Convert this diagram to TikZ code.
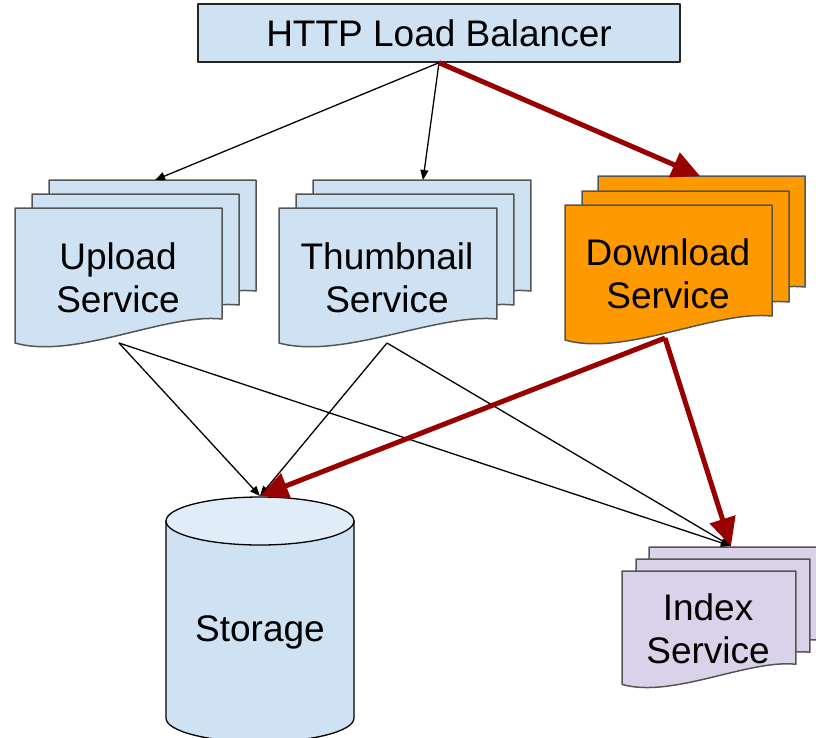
\documentclass[tikz,border=0pt]{standalone}
\usepackage{fontspec}
\setmainfont{Liberation Sans}
\usetikzlibrary{arrows.meta}

\begin{document}
\begin{tikzpicture}[x=1pt,y=-1pt,line join=round,
  page edge/.style={draw=pageline,line width=1.5pt},
  service text/.style={align=center,font=\fontsize{37}{43}\selectfont},
  call/.style={-{Triangle[length=10pt,width=8pt]},line width=1.3pt},
  main call/.style={-{Triangle[length=28pt,width=26pt]},flowred,line width=5pt},
  pics/page/.style={code={\filldraw[page edge,#1] (0,0) -- (207,0) -- (207,111) .. controls (150,105) and (60,152) .. (0,135) -- cycle;}}]
 \definecolor{svcblue}{HTML}{CFE2F3}
 \definecolor{topblue}{HTML}{E0ECF8}
 \definecolor{dlorange}{HTML}{FF9900}
 \definecolor{idxpurple}{HTML}{D9D2E9}
 \definecolor{flowred}{HTML}{990000}
 \definecolor{pageline}{HTML}{555555}

 \useasboundingbox (0,0) rectangle (816,737);

 \node[draw=black!85,fill=svcblue,line width=1.4pt,minimum width=482pt,minimum height=58pt,service text] (lb) at (439,33) {HTTP Load Balancer};

 \foreach \dx/\dy in {34/-28,17/-14,0/0}
    \pic at (15+\dx,208+\dy) {page={fill=svcblue}};
 \node[service text] (upload) at (118,278) {Upload\\Service};
 \coordinate (upload in) at (155,180);
 \coordinate (upload out) at (119,343);

 \foreach \dx/\dy in {34/-28,17/-14,0/0}
    \pic[xscale=1.053] at (279+\dx,208+\dy) {page={fill=svcblue}};
 \node[service text] (thumb) at (387,278) {Thumbnail\\Service};
 \coordinate (thumb in) at (423,180);
 \coordinate (thumb out) at (387,343);

 \foreach \dx/\dy in {33/-29,17/-14,0/0}
    \pic at (565+\dx,205+\dy) {page={fill=dlorange}};
 \node[service text] (download) at (668,274) {Download\\Service};
 \coordinate (download in) at (700,176);
 \coordinate (download out) at (665,338);

 \foreach \dx/\dy in {27/-24,14/-12,0/0}
    \pic[scale=0.84] at (622+\dx,571+\dy) {page={fill=idxpurple}};
 \node[service text] (index) at (708,629) {Index\\Service};
 \coordinate (index in) at (731,546);

 \filldraw[fill=svcblue,line width=1.3pt] (166,521) -- (166,718) arc[start angle=180,end angle=0,x radius=94,y radius=24] -- (354,521) -- cycle;
 \filldraw[fill=topblue,line width=1.3pt] (260,521) ellipse [x radius=94,y radius=24];
 \node[service text] (storage) at (260,632) {Storage};
 \coordinate (storage in) at (260,496);

 \draw[call] (lb.south) -- (upload in);
 \draw[call] (lb.south) -- (thumb in);
 \draw[call] (upload out) -- (storage in);
 \draw[call] (upload out) -- (index in);
 \draw[call] (thumb out) -- (storage in);
 \draw[call] (thumb out) -- (index in);
 \draw[main call] (lb.south) -- (download in);
 \draw[main call] (download out) -- (storage in);
 \draw[main call] (download out) -- (index in);
\end{tikzpicture}
\end{document}
